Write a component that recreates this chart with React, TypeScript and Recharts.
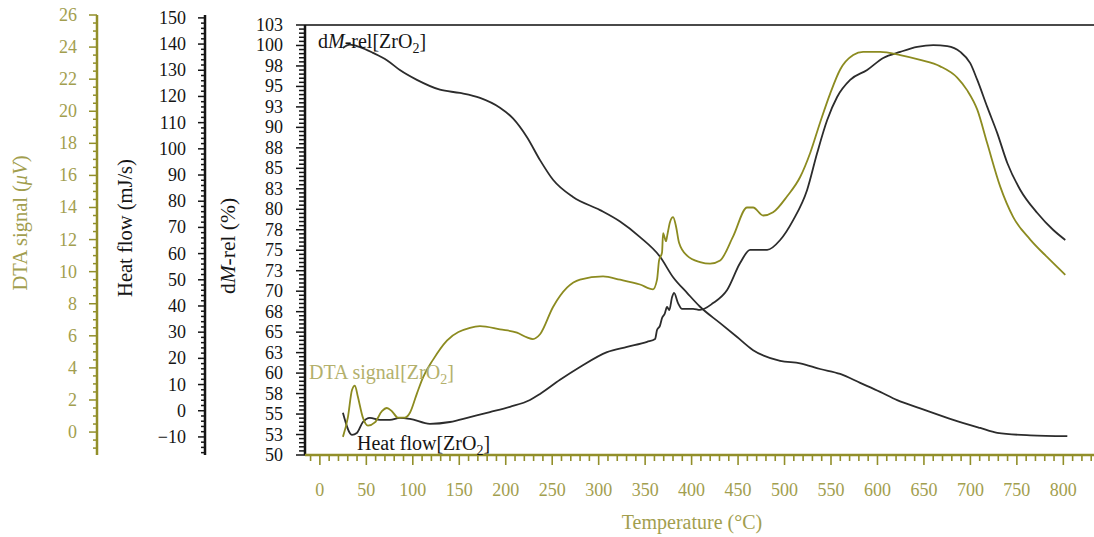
import React from "react";
import { LineChart, Line, XAxis, YAxis, ReferenceLine } from "recharts";

const FONT = "Liberation Serif, Times New Roman, serif";
const OLIVE_TEXT = "#a29e4e";
const OLIVE_AXIS = "#928f2a";
const OLIVE_CURVE = "#8c8b20";
const OLIVE_LABEL = "#b3b06c";
const INK = "#151515";
const CURVE = "#2c2c2c";

// temperature (°C) axis labels
const tempLabels = [0, 50, 100, 150, 200, 250, 300, 350, 400, 450, 500, 550, 600, 650, 700, 750, 800];
// dM-rel (%) labels (drawn rounded)
const dmLabels = [50, 52.5, 55, 57.5, 60, 62.5, 65, 67.5, 70, 72.5, 75, 77.5, 80, 82.5, 85, 87.5, 90, 92.5, 95, 97.5, 100, 102.5];
// heat flow (mJ/s) labels
const heatLabels = [-10, 0, 10, 20, 30, 40, 50, 60, 70, 80, 90, 100, 110, 120, 130, 140, 150];
// DTA signal (µV) labels
const dtaLabels = [0, 2, 4, 6, 8, 10, 12, 14, 16, 18, 20, 22, 24, 26];

// dM-rel[ZrO2]
const dmTemp = [24.8, 32.3, 43.1, 57.1, 72.1, 86.1, 104.4, 129.2, 150.7, 172.3, 193.8, 207.8, 222.9, 236.9, 250.9, 272.4, 301.5, 323.0, 344.5, 366.1, 380.1, 395.1, 409.1, 430.7, 449.0, 466.2, 495.3, 516.8, 538.3, 559.9, 581.4, 602.9, 621.2, 646.0, 681.5, 710.6, 728.9, 764.4, 804.3];
const dmVal = [99.7, 100.1, 99.8, 99.1, 98.2, 97.0, 95.8, 94.6, 94.2, 93.6, 92.4, 91.1, 88.8, 86.0, 83.6, 81.5, 79.9, 78.5, 76.6, 74.2, 71.7, 69.8, 68.1, 66.1, 64.4, 62.8, 61.5, 61.2, 60.5, 59.9, 58.8, 57.7, 56.7, 55.7, 54.3, 53.3, 52.7, 52.4, 52.3];

// Heat flow[ZrO2]
const heatTemp = [24.8, 34.5, 39.8, 46.3, 53.8, 64.6, 75.4, 86.1, 96.9, 118.4, 140.0, 161.5, 183.0, 204.6, 226.1, 236.9, 258.4, 279.9, 309.0, 330.5, 352.1, 360.7, 362.8, 366.0, 368.2, 371.0, 373.6, 376.0, 379.0, 381.1, 385.4, 389.7, 401.6, 409.1, 423.1, 438.2, 452.2, 463.0, 481.3, 495.3, 509.3, 524.3, 535.1, 545.9, 556.6, 570.6, 588.9, 606.2, 624.5, 642.8, 660.0, 675.1, 689.1, 699.8, 707.4, 718.1, 728.9, 739.7, 753.7, 772.0, 789.2, 802.1];
const heatVal = [-0.8, -9.2, -8.5, -4.3, -2.7, -3.5, -3.5, -2.7, -3.1, -5.0, -4.3, -2.4, -0.5, 1.5, 4.1, 6.4, 11.8, 16.7, 22.4, 24.4, 26.3, 27.4, 30.8, 32.5, 35.4, 37.0, 39.6, 38.4, 43.4, 45.0, 41.1, 38.9, 38.9, 38.5, 41.1, 46.1, 56.4, 61.4, 61.4, 65.2, 72.8, 84.3, 98.4, 111.0, 119.8, 126.3, 130.1, 134.7, 137.0, 138.9, 139.6, 139.2, 137.0, 132.7, 126.3, 116.0, 106.0, 94.6, 84.3, 75.5, 69.0, 65.2];

// DTA signal[ZrO2]
const dtaTemp = [24.8, 30.1, 34.5, 37.7, 40.9, 46.3, 51.7, 59.2, 66.8, 72.1, 77.5, 84.0, 91.5, 96.9, 104.4, 110.9, 121.7, 136.7, 161.5, 172.3, 193.8, 212.1, 222.9, 229.3, 236.9, 250.9, 265.9, 279.9, 304.7, 323.0, 344.5, 358.5, 362.8, 365.0, 368.2, 369.3, 372.5, 373.6, 376.8, 380.1, 383.3, 386.5, 395.1, 409.1, 419.9, 430.7, 444.7, 459.7, 466.2, 477.0, 487.7, 502.8, 516.8, 527.6, 538.3, 549.1, 559.9, 573.9, 584.6, 602.9, 624.5, 646.0, 667.5, 685.8, 696.6, 707.4, 718.1, 732.1, 746.1, 764.4, 782.7, 802.1];
const dtaVal = [-0.3, 0.9, 2.6, 2.9, 2.2, 0.9, 0.4, 0.6, 1.3, 1.5, 1.3, 0.9, 0.9, 1.2, 2.4, 3.4, 4.5, 5.7, 6.5, 6.6, 6.4, 6.2, 5.9, 5.8, 6.1, 7.8, 9.0, 9.5, 9.7, 9.5, 9.2, 8.9, 9.5, 10.7, 11.2, 12.4, 11.9, 12.2, 13.1, 13.4, 12.8, 11.8, 11.0, 10.6, 10.5, 10.7, 12.2, 14.0, 14.0, 13.5, 13.7, 14.7, 15.9, 17.4, 19.3, 21.1, 22.6, 23.5, 23.7, 23.7, 23.5, 23.2, 22.8, 22.1, 21.3, 20.1, 18.0, 15.3, 13.4, 12.0, 10.9, 9.8];

const zip = (ts: number[], vs: number[]) => ts.map((t, i) => ({ t, v: vs[i] }));
const dmData = zip(dmTemp, dmVal);
const heatData = zip(heatTemp, heatVal);
const dtaData = zip(dtaTemp, dtaVal);

// minor + major tick positions
const steps = (from: number, to: number, step: number) => {
  const out: number[] = [];
  for (let v = from; v <= to + 1e-9; v += step) out.push(Math.round(v * 100) / 100);
  return out;
};
const xTicks = steps(-10, 830, 10);
const dmTicks = steps(50, 102.5, 0.5);
const heatTicks = steps(-16, 150, 2);
const dtaTicks = steps(-1, 26, 0.5);

const has = (list: number[], v: number) => list.some((l) => Math.abs(l - v) < 1e-6);

function yTick(labels: number[], fmt: (v: number) => string, lineColor: string, textColor: string, majorLen: number, minorLen: number, gap: number) {
  return (props: any) => {
    const { x, y, payload } = props;
    const v = payload.value;
    const major = has(labels, v);
    const len = major ? majorLen : minorLen;
    return (
      <g fontFamily="Liberation Serif">
        <line x1={x} x2={x - len} y1={y} y2={y} stroke={lineColor} strokeWidth={1.5} />
        {major && (
          <text x={x - gap} y={y} textAnchor="end" dominantBaseline="central" fill={textColor} fontFamily="Liberation Serif" fontSize={18}>
            {fmt(v)}
          </text>
        )}
      </g>
    );
  };
}

const xTick = (props: any) => {
  const { x, y, payload } = props;
  const v = payload.value;
  const major = has(tempLabels, v);
  return (
    <g fontFamily="Liberation Serif">
      <line x1={x} x2={x} y1={y} y2={y + (major ? 10 : 6)} stroke={OLIVE_AXIS} strokeWidth={1.6} />
      {major && (
        <text x={x} y={y + 35} textAnchor="middle" dominantBaseline="central" fill={OLIVE_TEXT} fontFamily="Liberation Serif" fontSize={18}>
          {v}
        </text>
      )}
    </g>
  );
};

const minus = (v: number) => (v < 0 ? "\u2212" + Math.abs(v) : String(v));

export default function App() {
  return (
    <div style={{ position: "absolute", left: 0, top: 0, width: 1094, height: 537, background: "#fff", fontFamily: FONT }}>
      <LineChart width={1094} height={537} margin={{ top: 15, right: 0, bottom: 0, left: 0 }}>
        <XAxis
          xAxisId="t"
          dataKey="t"
          type="number"
          domain={[-16, 833]}
          allowDataOverflow
          ticks={xTicks}
          interval={0}
          height={82}
          tickSize={0}
          tickMargin={0}
          tick={xTick}
          tickLine={false}
          axisLine={{ stroke: OLIVE_AXIS, strokeWidth: 2.5 }}
        />
        <YAxis
          yAxisId="y1dm"
          orientation="left"
          type="number"
          domain={[50, 103.72]}
          allowDataOverflow
          ticks={dmTicks}
          interval={0}
          width={100}
          tickSize={0}
          tickMargin={0}
          tickLine={false}
          axisLine={false}
          tick={yTick(dmLabels, (v) => String(Math.round(v)), INK, INK, 9, 6, 22)}
        />
        <YAxis
          yAxisId="y2heat"
          orientation="left"
          type="number"
          domain={[-16.9, 151.1]}
          allowDataOverflow
          ticks={heatTicks}
          interval={0}
          width={108}
          tickSize={0}
          tickMargin={0}
          tickLine={false}
          axisLine={{ stroke: INK, strokeWidth: 2.5 }}
          tick={yTick(heatLabels, minus, INK, INK, 7, 4, 19)}
        />
        <YAxis
          yAxisId="y3dta"
          orientation="left"
          type="number"
          domain={[-1.43, 26.0]}
          allowDataOverflow
          ticks={dtaTicks}
          interval={0}
          width={97}
          tickSize={0}
          tickMargin={0}
          tickLine={false}
          axisLine={{ stroke: OLIVE_AXIS, strokeWidth: 2.5 }}
          tick={yTick(dtaLabels, (v) => String(v), OLIVE_AXIS, OLIVE_TEXT, 8, 4, 20)}
        />
        <ReferenceLine xAxisId="t" yAxisId="y1dm" y={102.5} stroke="#4a4a4a" strokeWidth={2} />
        <ReferenceLine
          xAxisId="t"
          yAxisId="y1dm"
          segment={[{ x: -16, y: 50 }, { x: -16, y: 102.5 }]}
          stroke={INK}
          strokeWidth={2.5}
        />
        <Line xAxisId="t" yAxisId="y1dm" data={dmData} dataKey="v" type="monotone" stroke={CURVE} strokeWidth={1.8} dot={false} isAnimationActive={false} />
        <Line xAxisId="t" yAxisId="y2heat" data={heatData} dataKey="v" type="monotone" stroke={CURVE} strokeWidth={1.8} dot={false} isAnimationActive={false} />
        <Line xAxisId="t" yAxisId="y3dta" data={dtaData} dataKey="v" type="monotone" stroke={OLIVE_CURVE} strokeWidth={1.8} dot={false} isAnimationActive={false} />
      </LineChart>
      <svg width={1094} height={537} style={{ position: "absolute", left: 0, top: 0, pointerEvents: "none" }} fontFamily={FONT}>
        <text transform="translate(20,223) rotate(-90)" textAnchor="middle" dominantBaseline="central" fill={OLIVE_TEXT} fontSize={20.5}>
          DTA signal (<tspan fontStyle="italic">μV</tspan>)
        </text>
        <text transform="translate(125,228) rotate(-90)" textAnchor="middle" dominantBaseline="central" fill={INK} fontSize={20.5}>
          Heat flow (mJ/s)
        </text>
        <text transform="translate(228,246) rotate(-90)" textAnchor="middle" dominantBaseline="central" fill={INK} fontSize={21.5}>
          d<tspan fontStyle="italic">M</tspan>-rel (%)
        </text>
        <text x={692} y={522} textAnchor="middle" dominantBaseline="central" fill={OLIVE_TEXT} fontSize={20}>
          Temperature (°C)
        </text>
        <text x={318} y={48} fill={INK} fontSize={20}>
          d<tspan fontStyle="italic">M</tspan>-rel[ZrO<tspan fontSize={14} dy={5}>2</tspan><tspan dy={-5}>]</tspan>
        </text>
        <text x={309} y={379} fill={OLIVE_LABEL} fontSize={20}>
          DTA signal[ZrO<tspan fontSize={14} dy={5}>2</tspan><tspan dy={-5}>]</tspan>
        </text>
        <text x={357} y={450} fill={INK} fontSize={20}>
          Heat flow[ZrO<tspan fontSize={14} dy={5}>2</tspan><tspan dy={-5}>]</tspan>
        </text>
      </svg>
    </div>
  );
}
